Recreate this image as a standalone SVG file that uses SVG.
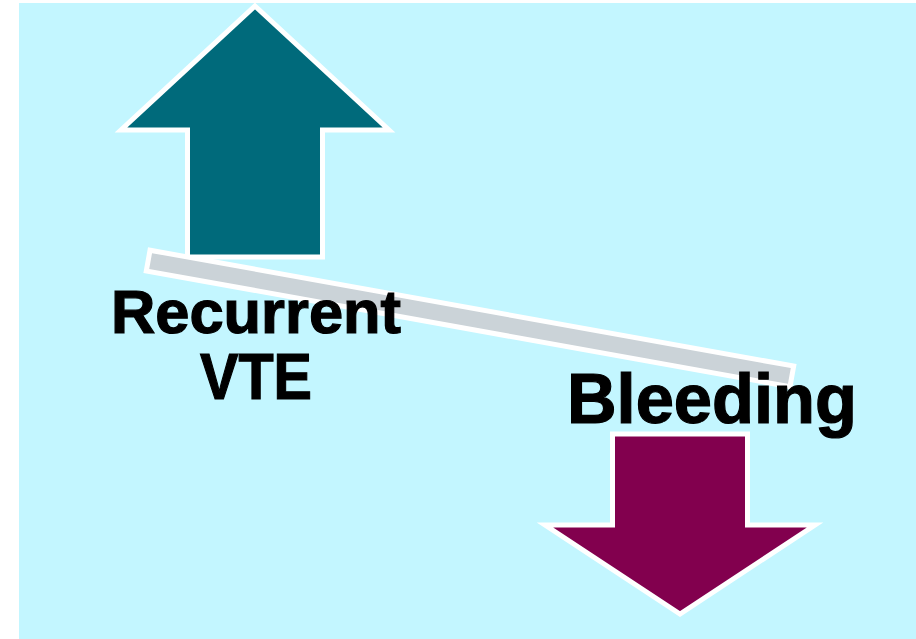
<svg xmlns="http://www.w3.org/2000/svg" width="916" height="639" viewBox="0 0 916 639">
<style>
.lbl{font-family:"Liberation Sans",Arial,sans-serif;font-weight:bold;fill:#000;stroke:#000;stroke-width:1.2;text-anchor:middle}
.arr{stroke:#fff;stroke-width:5;stroke-linejoin:miter}
</style>
<rect x="0" y="0" width="916" height="639" fill="#fff"/>
<rect x="19" y="3" width="897" height="636" fill="#C3F6FF"/>
<g id="up-arrow">
<polygon class="arr" fill="#006A7B" points="255,6 389,130 322.5,130 322.5,257 187.5,257 187.5,130 121,130"/>
</g>
<g id="balance-bar">
<rect x="143" y="308" width="654" height="21" fill="#CBD3D8" stroke="#fff" stroke-width="5" transform="rotate(10.2 470 318.5)"/>
</g>
<g id="down-arrow">
<polygon class="arr" fill="#82004E" points="612.5,434 747.5,434 747.5,525 815,525 680,614 545,525 612.5,525"/>
</g>
<g id="label-vte">
<text class="lbl" x="256" y="333" font-size="61" textLength="290" lengthAdjust="spacingAndGlyphs">Recurrent</text>
<text class="lbl" x="256" y="399" font-size="64" textLength="112" lengthAdjust="spacingAndGlyphs">VTE</text>
</g>
<g id="label-bleeding">
<text class="lbl" x="712" y="423" font-size="70" textLength="290" lengthAdjust="spacingAndGlyphs">Bleeding</text>
</g>
</svg>
